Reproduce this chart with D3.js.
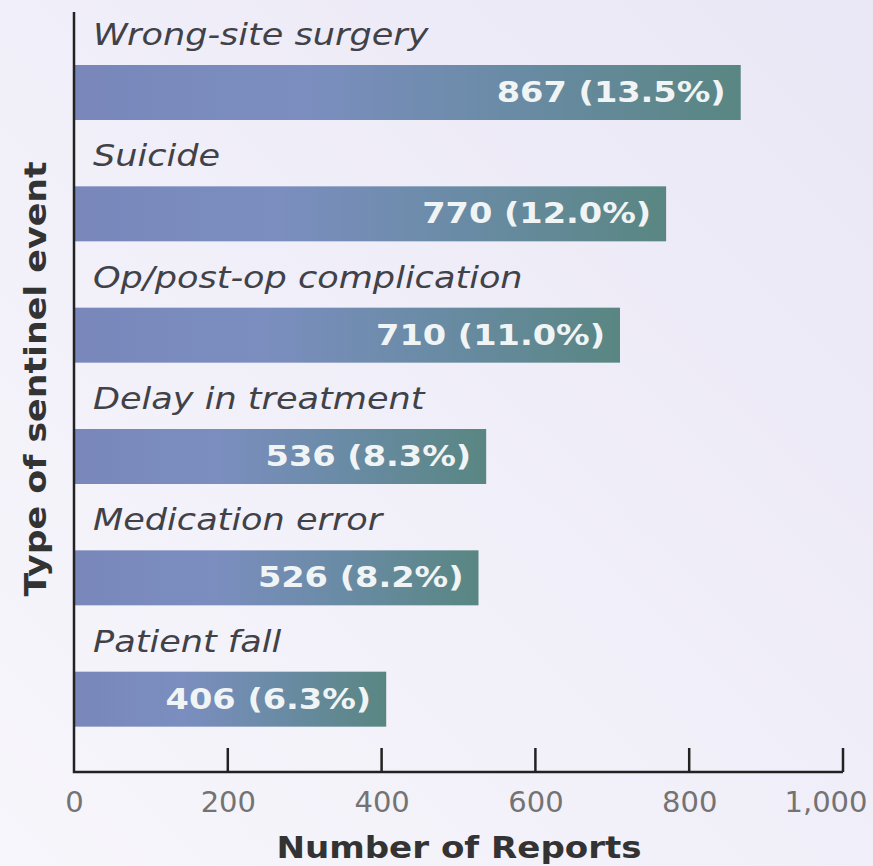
<!DOCTYPE html>
<html>
<head>
<meta charset="utf-8">
<script src="https://cdn.jsdelivr.net/npm/d3@7"></script>
<style>
  html, body { margin: 0; padding: 0; background: #f3f1fa; }
  svg { display: block; }
</style>
</head>
<body>
<svg id="chart" width="873" height="866"></svg>
<script>
// Sentinel event reports by type
const categories = [
  "Wrong-site surgery",
  "Suicide",
  "Op/post-op complication",
  "Delay in treatment",
  "Medication error",
  "Patient fall"
];
const reports = [867, 770, 710, 536, 526, 406];
const shares = ["13.5%", "12.0%", "11.0%", "8.3%", "8.2%", "6.3%"];
const tickValues = [0, 200, 400, 600, 800, 1000];
const xTitle = "Number of Reports";
const yTitle = "Type of sentinel event";

const svg = d3.select("#chart");
const W = 873, H = 866;
const axisY = 772;
const FONT = "DejaVu Sans, Verdana, sans-serif";

const defs = svg.append("defs");
const bg = defs.append("linearGradient").attr("id", "bg")
  .attr("x1", "100%").attr("y1", "0%").attr("x2", "0%").attr("y2", "100%");
bg.append("stop").attr("offset", "0%").attr("stop-color", "#eae7f6");
bg.append("stop").attr("offset", "100%").attr("stop-color", "#f7f6fb");

const barGrad = defs.append("linearGradient").attr("id", "bar")
  .attr("x1", "0%").attr("x2", "100%").attr("y1", "0%").attr("y2", "0%");
barGrad.append("stop").attr("offset", "0%").attr("stop-color", "#7987bb");
barGrad.append("stop").attr("offset", "35%").attr("stop-color", "#7b8ebf");
barGrad.append("stop").attr("offset", "65%").attr("stop-color", "#6a8ba6");
barGrad.append("stop").attr("offset", "100%").attr("stop-color", "#598682");

svg.append("rect").attr("width", W).attr("height", H).attr("fill", "url(#bg)");

const x = d3.scaleLinear().domain([0, 1000]).range([74, 843]);

// Each category occupies a row: label line on top, bar beneath
const rows = d3.scaleBand().domain(categories).range([12, 740]);

const row = svg.append("g").selectAll("g.row").data(categories).join("g").attr("class", "row");

row.append("text")
  .attr("transform", d => `translate(93,${rows(d) + 33}) scale(1.17,1)`)
  .attr("font-family", FONT)
  .attr("font-style", "italic")
  .attr("font-size", 30)
  .attr("fill", "#414148")
  .text(d => d);

row.append("rect")
  .attr("x", x(0))
  .attr("y", d => rows(d) + 53)
  .attr("width", (d, i) => x(reports[i]) - x(0))
  .attr("height", 55)
  .attr("fill", "url(#bar)");

row.append("text")
  .attr("transform", (d, i) => `translate(${x(reports[i]) - 15},${rows(d) + 90}) scale(1.2,1)`)
  .attr("text-anchor", "end")
  .attr("font-family", FONT)
  .attr("font-weight", "bold")
  .attr("font-size", 28)
  .attr("fill", "#f1f4f5")
  .text((d, i) => `${reports[i]} (${shares[i]})`);

// Horizontal axis: labels below, tick marks pointing up into the plot
const xAxis = d3.axisBottom(x)
  .tickValues(tickValues)
  .tickSize(0)
  .tickPadding(0)
  .tickFormat(d3.format(","));

const ax = svg.append("g").attr("transform", `translate(0,${axisY})`).call(xAxis);
ax.select(".domain").remove();
ax.selectAll("text")
  .attr("font-family", FONT)
  .attr("font-size", 29)
  .attr("fill", "#737373")
  .attr("y", 40)
  .attr("dy", null)
  .filter(d => d === 1000)
  .attr("text-anchor", "end")
  .attr("x", W - 6 - x(1000));

svg.append("g").selectAll("line").data(tickValues.slice(1)).join("line")
  .attr("x1", d => x(d)).attr("x2", d => x(d))
  .attr("y1", axisY).attr("y2", axisY - 24)
  .attr("stroke", "#222").attr("stroke-width", 2.5);

svg.append("path")
  .attr("d", `M${x(0)},12V${axisY}H${x(1000)}`)
  .attr("fill", "none").attr("stroke", "#222").attr("stroke-width", 2.5);

svg.append("text")
  .attr("transform", "translate(459,858) scale(1.1,1)")
  .attr("text-anchor", "middle")
  .attr("font-family", FONT)
  .attr("font-weight", "bold")
  .attr("font-size", 31)
  .attr("fill", "#333")
  .text(xTitle);

svg.append("text")
  .attr("transform", "translate(46,379) rotate(-90) scale(1.16,1)")
  .attr("text-anchor", "middle")
  .attr("font-family", FONT)
  .attr("font-weight", "bold")
  .attr("font-size", 30)
  .attr("fill", "#333")
  .text(yTitle);
</script>
</body>
</html>
